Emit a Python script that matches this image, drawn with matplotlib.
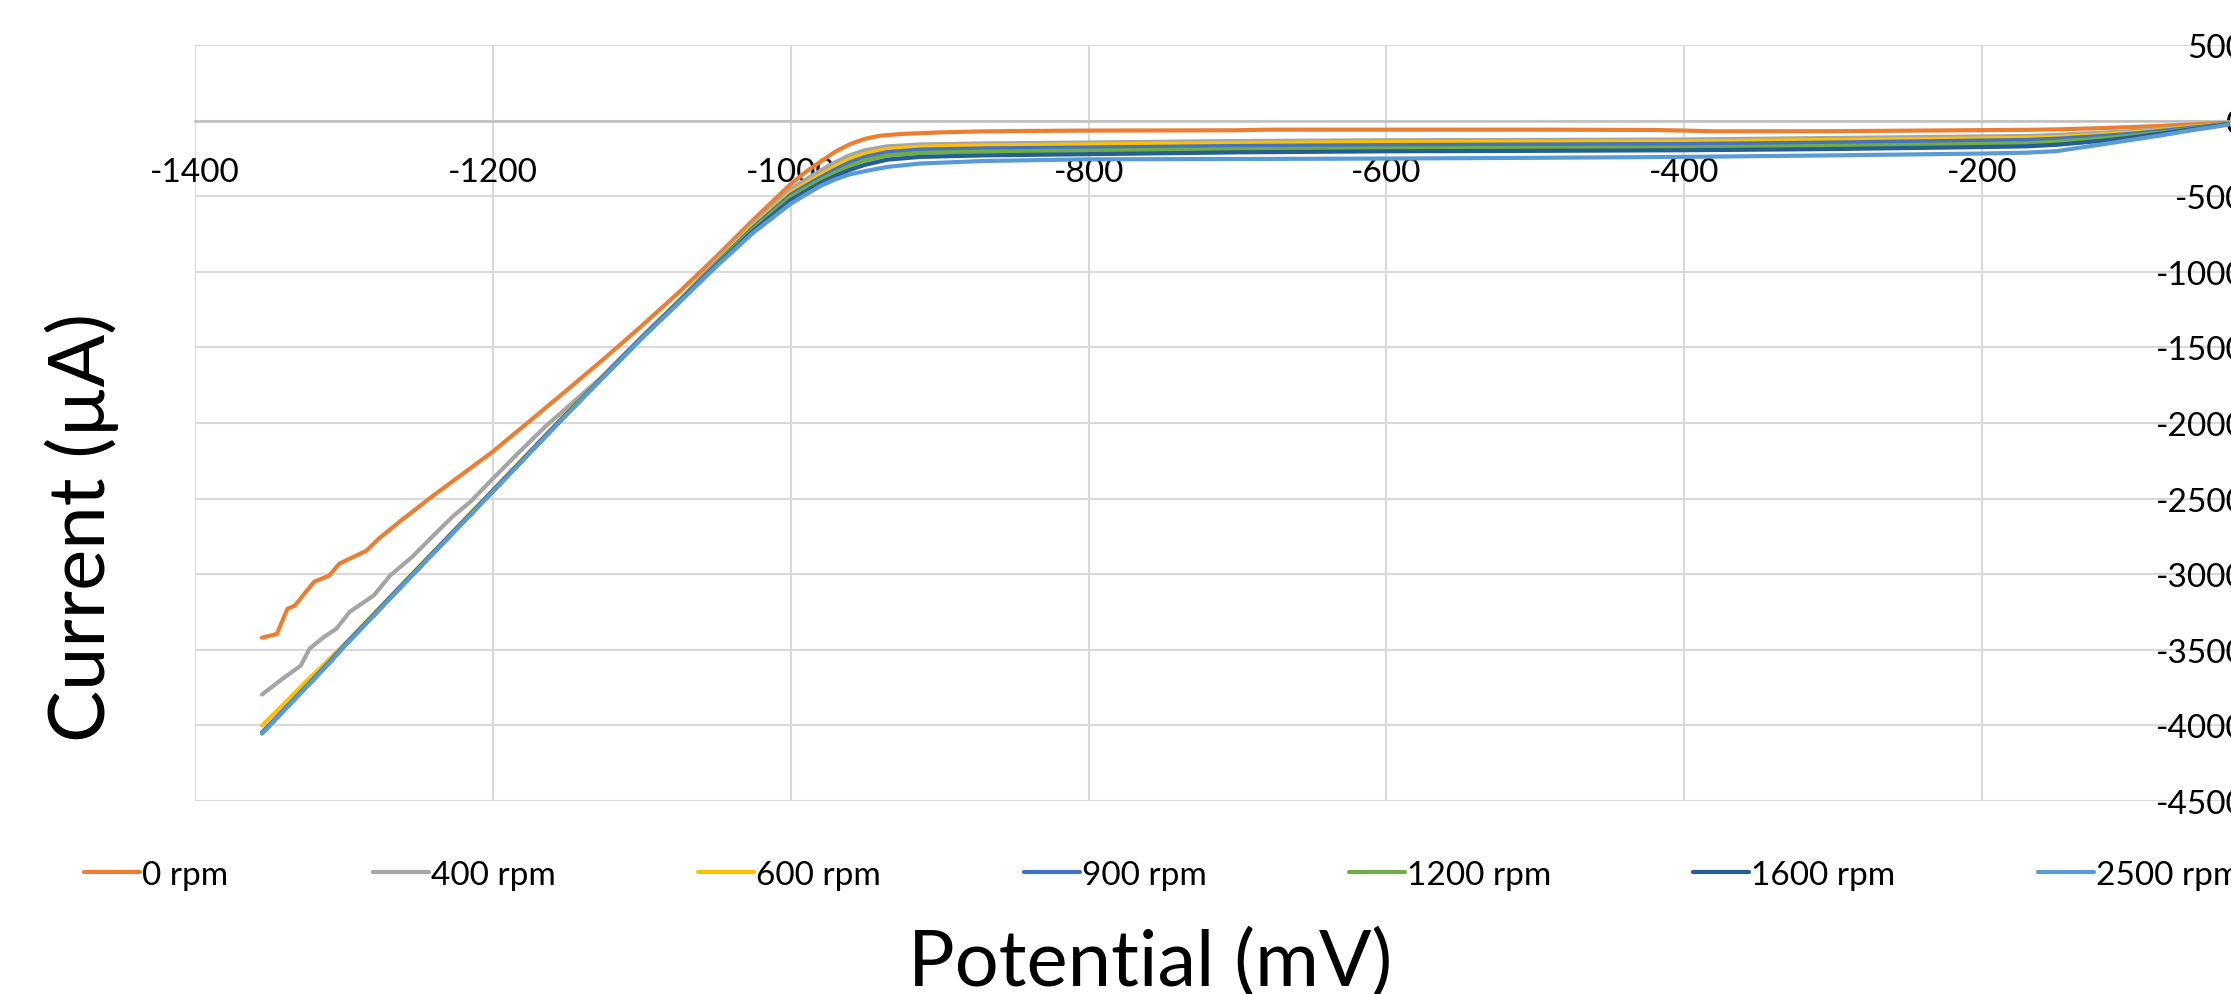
import matplotlib
matplotlib.use('Agg')
import matplotlib.pyplot as plt
from matplotlib.lines import Line2D

plt.rcParams['font.family'] = ['Lato', 'DejaVu Sans']
plt.rcParams['axes.unicode_minus'] = False

# ---------------- data ----------------
labels = ['0 rpm', '400 rpm', '600 rpm', '900 rpm', '1200 rpm', '1600 rpm', '2500 rpm']
colors = ['#ED7D31', '#A5A5A5', '#FFC000', '#4472C4', '#70AD47', '#255E91', '#5B9BD5']

x_0rpm = [-1355, -1345, -1338, -1333, -1320, -1310, -1303, -1285, -1276, -1262, -1240, -1220,
          -1200, -1175, -1150, -1125, -1100, -1075, -1050, -1025, -1000, -990, -980, -970,
          -960, -950, -940, -925, -900, -875, -850, -800, -750, -700, -680, -600, -500, -420,
          -400, -380, -300, -200, -170, -150, -120, -100, -80, -60, -35]
i_0rpm = [-3420, -3395, -3230, -3208, -3050, -3010, -2930, -2845, -2760, -2648, -2480, -2335,
          -2189, -1985, -1780, -1572, -1357, -1135, -900, -655, -420, -340, -272, -205,
          -155, -120, -100, -88, -78, -72, -69, -66, -65, -64, -60, -60, -60, -62,
          -66, -71, -70, -63, -61, -58, -50, -43, -35, -26, -14]

x_400rpm = [-1355, -1341, -1329, -1323, -1314, -1305, -1296, -1280, -1269, -1254, -1240, -1227,
            -1215, -1200, -1182, -1164, -1128, -1100, -1075, -1050, -1025, -1000, -990, -980,
            -970, -960, -950, -935, -913, -870, -800, -700, -600, -500, -400, -300, -200,
            -170, -150, -120, -100, -80, -60, -35]
i_400rpm = [-3796, -3690, -3605, -3492, -3420, -3360, -3248, -3141, -3009, -2884, -2745, -2619,
            -2520, -2368, -2189, -2017, -1706, -1430, -1195, -925, -680, -455, -390, -330,
            -275, -228, -196, -170, -158, -151, -145, -135, -130, -128, -125, -115, -105,
            -102, -95, -80, -70, -55, -40, -20]

x_rot = [-1355, -1340, -1325, -1310, -1300, -1250, -1200, -1150, -1100, -1075, -1050, -1025,
         -1000, -990, -980, -970, -960, -950, -935, -913, -870, -800, -700, -600, -500,
         -400, -300, -200, -170, -150, -120, -100, -80, -60, -35]
i_600rpm = [-4001, -3855, -3705, -3565, -3468, -2955, -2444, -1930, -1430, -1190, -935, -695,
            -475, -415, -358, -302, -252, -218, -188, -173, -164, -158, -148, -142, -140,
            -138, -128, -118, -114, -108, -92, -80, -62, -44, -21]
i_900rpm = [-4048, -3894, -3739, -3584, -3474, -2959, -2448, -1934, -1434, -1193, -945, -705,
            -490, -432, -376, -323, -275, -240, -208, -192, -184, -178, -168, -162, -158,
            -155, -145, -132, -128, -120, -102, -88, -68, -48, -22]
i_1200rpm = [-4052, -3898, -3743, -3588, -3478, -2963, -2452, -1938, -1438, -1198, -950, -715,
             -505, -448, -393, -343, -298, -262, -230, -213, -204, -198, -190, -184, -181,
             -178, -168, -155, -150, -140, -118, -100, -78, -54, -23]
i_1600rpm = [-4050, -3896, -3741, -3586, -3476, -2961, -2450, -1936, -1436, -1200, -958, -728,
             -525, -468, -412, -365, -325, -292, -258, -240, -230, -222, -210, -203, -200,
             -196, -188, -175, -170, -160, -134, -112, -86, -58, -24]
i_2500rpm = [-4054, -3900, -3745, -3590, -3480, -2965, -2454, -1940, -1440, -1205, -965, -740,
             -550, -490, -432, -388, -355, -334, -306, -284, -267, -256, -254, -251, -246,
             -240, -230, -218, -212, -202, -158, -128, -98, -65, -28]

x_ticks = [-1400, -1200, -1000, -800, -600, -400, -200, 0]
y_ticks = [-4500, -4000, -3500, -3000, -2500, -2000, -1500, -1000, -500, 0, 500]

xs = [x_0rpm, x_400rpm, x_rot, x_rot, x_rot, x_rot, x_rot]
ys = [i_0rpm, i_400rpm, i_600rpm, i_900rpm, i_1200rpm, i_1600rpm, i_2500rpm]

# ---------------- figure ----------------
W, H = 2231, 995
fig = plt.figure(figsize=(W / 100, H / 100), dpi=100)
ax = fig.add_axes([195 / W, 1 - 802 / H, (2280 - 195) / W, (802 - 46) / H])

for x, y, c, l in zip(xs, ys, colors, labels):
    ax.plot(x, y, color=c, lw=3, label=l, solid_capstyle='round', solid_joinstyle='round')

ax.set_xlim(-1400, 0)
ax.set_ylim(-4500, 500)
ax.set_xticks(x_ticks)
ax.set_yticks(y_ticks)
ax.set_xticklabels([str(v) for v in x_ticks])
ax.set_yticklabels([str(v) for v in y_ticks])
ax.grid(True, color='#d9d9d9', lw=1.5)
ax.set_axisbelow(True)

for s in ['top', 'right']:
    ax.spines[s].set_visible(False)
ax.spines['bottom'].set_position(('data', 0))
ax.spines['bottom'].set_color('#bfbfbf')
ax.spines['bottom'].set_linewidth(1.8)
ax.spines['bottom'].set_zorder(0.7)
ax.spines['left'].set_position(('data', 0))
ax.spines['left'].set_visible(False)

ax.tick_params(axis='x', length=0, pad=26, labelsize=24, colors='black')
ax.tick_params(axis='y', length=0, pad=25, labelsize=24, colors='black')

# axis titles
fig.text(1150 / W, 1 - 986 / H, 'Potential (mV)', ha='center', va='baseline', fontsize=56)
fig.text(82 / W, 1 - 528 / H, 'Current (µA)', ha='center', va='center', rotation=90, fontsize=56)

# legend (single row below the plot)
leg_x0 = [84, 373, 698, 1024, 1349, 1693, 2038]
leg_y = 873
for x0, c, l in zip(leg_x0, colors, labels):
    fig.add_artist(Line2D([x0 / W, (x0 + 56) / W], [1 - leg_y / H, 1 - leg_y / H],
                          transform=fig.transFigure, color=c, lw=3, solid_capstyle='round'))
    fig.text((x0 + 58) / W, 1 - 885 / H, l, ha='left', va='baseline', fontsize=24)

fig.savefig('out.png', dpi=100)
